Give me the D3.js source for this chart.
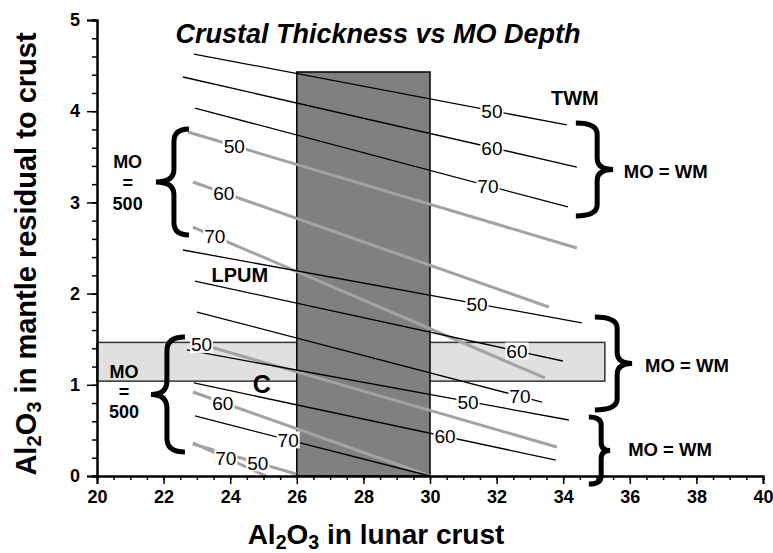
<!DOCTYPE html>
<html><head><meta charset="utf-8">
<script src="https://cdn.jsdelivr.net/npm/d3@7"></script>
<style>body{margin:0;background:#fff} svg{display:block}</style>
</head><body><svg id="c" width="773" height="553"></svg>
<script>
// ---------- data ----------
const xTickValues = d3.range(20, 41, 2);
const yTickValues = [0, 1, 2, 3, 4, 5];
const crustBox = {x0: 26, x1: 30, y0: 0, y1: 4.43};
const bandBox = {x0: 20, x1: 35.25, y0: 1.04, y1: 1.465};

const twmBlack = [
  {label: "50", x1: 22.91, y1: 4.627, x2: 34.11, y2: 3.849, lx: 31.86},
  {label: "60", x1: 22.58, y1: 4.375, x2: 34.41, y2: 3.388, lx: 31.86},
  {label: "70", x1: 22.94, y1: 4.035, x2: 34.14, y2: 2.95, lx: 31.74}
];
const twmGray = [
  {label: "50", x1: 22.73, y1: 3.772, x2: 34.41, y2: 2.5, lx: 24.12},
  {label: "60", x1: 22.88, y1: 3.224, x2: 33.57, y2: 1.853, lx: 23.81},
  {label: "70", x1: 22.88, y1: 2.73, x2: 33.45, y2: 1.075, lx: 23.54}
];
const lpumBlack = [
  {label: "50", x1: 22.58, y1: 2.478, x2: 34.56, y2: 1.678, lx: 31.41},
  {label: "60", x1: 22.94, y1: 2.138, x2: 33.99, y2: 1.261, lx: 32.61},
  {label: "70", x1: 23.0, y1: 1.798, x2: 33.36, y2: 0.811, lx: 32.70}
];
const cBlack = [
  {label: "50", x1: 22.70, y1: 1.382, x2: 34.17, y2: 0.614, lx: 31.14},
  {label: "60", x1: 22.91, y1: 1.02, x2: 33.78, y2: 0.175, lx: 30.45},
  {label: "70", x1: 22.94, y1: 0.658, x2: 30.0, y2: 0.0, lx: 25.74}
];
const cGray = [
  {label: "50", x1: 22.79, y1: 1.48, x2: 33.81, y2: 0.318, lx: 23.14},
  {label: "60", x1: 22.88, y1: 0.921, x2: 30.0, y2: 0.0, lx: 23.78},
  {label: "70", x1: 22.88, y1: 0.362, x2: 25.08, y2: 0.0, lx: 23.87},
  {label: "50", x1: 22.88, y1: 0.351, x2: 25.98, y2: 0.022, lx: 24.83}
];
// braces: end x, spine x, tip x, top y, bottom y (data units)
const braces = [
  {xe: 22.76, xs: 22.31, xt: 21.77, y0: 3.805, y1: 2.643},
  {xe: 22.64, xs: 22.10, xt: 21.62, y0: 1.524, y1: 0.263},
  {xe: 34.38, xs: 35.02, xt: 35.50, y0: 3.871, y1: 2.851},
  {xe: 34.95, xs: 35.62, xt: 36.07, y0: 1.743, y1: 0.724},
  {xe: 34.77, xs: 35.14, xt: 35.41, y0: 0.647, y1: -0.088}
];
const noteTexts = [
  {text: "TWM", x: 34.35, y: 4.07, size: 20, anchor: "middle"},
  {text: "LPUM", x: 24.29, y: 2.13, size: 20, anchor: "middle"},
  {text: "C", x: 24.95, y: 0.91, size: 25, anchor: "middle"},
  {text: "MO = WM", x: 35.82, y: 3.27, size: 18.5, anchor: "start"},
  {text: "MO = WM", x: 36.46, y: 1.14, size: 18.5, anchor: "start"},
  {text: "MO = WM", x: 35.95, y: 0.22, size: 18.5, anchor: "start"}
];
const moStacks = [
  {lines: ["MO", "=", "500"], x: 20.92, y: 3.38, step: 21},
  {lines: ["MO", "=", "500"], x: 20.81, y: 1.07, step: 20}
];

// ---------- layout ----------
const svg = d3.select("#c");
const font = "'Liberation Sans', Arial, Helvetica, sans-serif";
const x = d3.scaleLinear().domain([20, 40]).range([97, 763]);
const y = d3.scaleLinear().domain([0, 5]).range([476, 20]);

// band & crust box
svg.append("rect")
  .attr("x", x(bandBox.x0)).attr("y", y(bandBox.y1))
  .attr("width", x(bandBox.x1) - x(bandBox.x0)).attr("height", y(bandBox.y0) - y(bandBox.y1))
  .attr("fill", "#e0e0e0").attr("stroke", "#333").attr("stroke-width", 1.5);
svg.append("rect")
  .attr("x", x(crustBox.x0)).attr("y", y(crustBox.y1))
  .attr("width", x(crustBox.x1) - x(crustBox.x0)).attr("height", y(crustBox.y0) - y(crustBox.y1))
  .attr("fill", "#808080").attr("stroke", "#000").attr("stroke-width", 1.5);

// lines
function drawSet(set, color, width) {
  svg.append("g").selectAll("line").data(set).join("line")
    .attr("x1", d => x(d.x1)).attr("y1", d => y(d.y1))
    .attr("x2", d => x(d.x2)).attr("y2", d => y(d.y2))
    .attr("stroke", color).attr("stroke-width", width);
}
drawSet(twmGray, "#a3a3a3", 3);
drawSet(cGray, "#a3a3a3", 3);
drawSet(twmBlack, "#000", 1.3);
drawSet(lpumBlack, "#000", 1.3);
drawSet(cBlack, "#000", 1.3);

// labels
function labelSet(set) {
  set.forEach(d => {
    const t = (d.lx - d.x1) / (d.x2 - d.x1);
    const ly = d.y1 + t * (d.y2 - d.y1);
    const px = x(d.lx), py = y(ly);
    const g = svg.append("g");
    const tx = g.append("text").attr("x", px).attr("y", py + 7)
      .attr("text-anchor", "middle").attr("font-family", font)
      .attr("font-size", 19).text(d.label);
    const bb = tx.node().getBBox();
    g.insert("rect", "text").attr("x", bb.x - 1).attr("y", py - 8.5)
      .attr("width", bb.width + 2).attr("height", 17).attr("fill", "#fff");
  });
}
[twmGray, cGray, twmBlack, lpumBlack, cBlack].forEach(labelSet);

// braces
function bracePath(b) {
  const xe = x(b.xe), xs = x(b.xs), xt = x(b.xt);
  const y0 = y(b.y0), y1 = y(b.y1);
  const ym = (y0 + y1) / 2, rr = (y1 - y0) * 0.12;
  return `M${xe},${y0} Q${xs},${y0} ${xs},${y0 + rr} L${xs},${ym - rr} Q${xs},${ym} ${xt},${ym} ` +
         `Q${xs},${ym} ${xs},${ym + rr} L${xs},${y1 - rr} Q${xs},${y1} ${xe},${y1}`;
}
svg.append("g").selectAll("path").data(braces).join("path")
  .attr("d", bracePath).attr("fill", "none").attr("stroke", "#000")
  .attr("stroke-width", 5);

// notes
svg.append("g").selectAll("text").data(noteTexts).join("text")
  .attr("x", d => x(d.x)).attr("y", d => y(d.y))
  .attr("text-anchor", d => d.anchor).attr("font-family", font)
  .attr("font-weight", "bold").attr("font-size", d => d.size).text(d => d.text);
moStacks.forEach(s => {
  const t = svg.append("text").attr("font-family", font).attr("font-weight", "bold")
    .attr("font-size", 18).attr("text-anchor", "middle");
  s.lines.forEach((l, i) => t.append("tspan").attr("x", x(s.x)).attr("y", y(s.y) + i * s.step).text(l));
});

// axes
const gx = svg.append("g").attr("transform", `translate(0,${y(0)})`);
gx.call(d3.axisBottom(x).tickValues(d3.range(20, 40.01, 0.5)).tickSize(4).tickFormat(""));
gx.call(g => g.append("g").call(d3.axisBottom(x).tickValues(xTickValues).tickSize(8).tickFormat(d3.format("d"))));
const gy = svg.append("g").attr("transform", `translate(${x(20)},0)`);
gy.call(d3.axisLeft(y).tickValues(d3.range(0, 5.01, 0.2)).tickSize(5).tickFormat(""));
gy.call(g => g.append("g").call(d3.axisLeft(y).tickValues(yTickValues).tickSize(10).tickFormat(d3.format("d"))));
svg.selectAll(".domain").attr("stroke", "#000").attr("stroke-width", 2);
svg.selectAll(".tick line").attr("stroke", "#000").attr("stroke-width", 1.5);
svg.selectAll(".tick text").attr("font-family", font).attr("font-weight", "bold")
  .attr("font-size", 18).attr("fill", "#000");
gx.selectAll(".tick text").attr("dy", "0.71em").attr("y", 14);
gy.selectAll(".tick text").attr("x", -17);

// titles
svg.append("text").attr("x", 378).attr("y", 43).attr("text-anchor", "middle")
  .attr("font-family", font).attr("font-weight", "bold").attr("font-style", "italic")
  .attr("font-size", 27).text("Crustal Thickness vs MO Depth");

function subTitle(sel, rest) {
  sel.append("tspan").text("Al");
  sel.append("tspan").attr("font-size", "70%").attr("dy", 5).text("2");
  sel.append("tspan").attr("dy", -5).text("O");
  sel.append("tspan").attr("font-size", "70%").attr("dy", 5).text("3");
  sel.append("tspan").attr("dy", -5).text(rest);
}
const xt = svg.append("text").attr("x", 376).attr("y", 544).attr("text-anchor", "middle")
  .attr("font-family", font).attr("font-weight", "bold").attr("font-size", 28);
subTitle(xt, " in lunar crust");
const yt = svg.append("text").attr("transform", "translate(36,254) rotate(-90)")
  .attr("text-anchor", "middle").attr("font-family", font).attr("font-weight", "bold").attr("font-size", 29);
subTitle(yt, " in mantle residual to crust");
</script></body></html>
